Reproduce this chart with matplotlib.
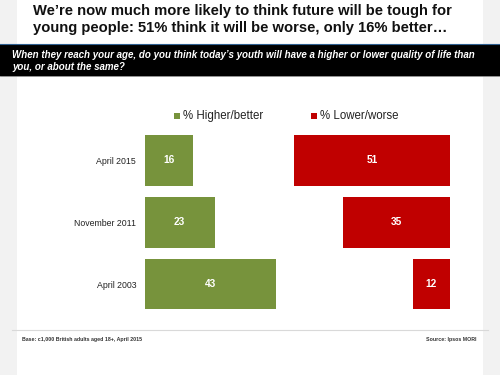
import matplotlib.pyplot as plt
from matplotlib.patches import Rectangle

# data
periods = ['April 2003', 'November 2011', 'April 2015']
higher = [43, 23, 16]
lower = [12, 35, 51]
series_names = ['% Higher/better', '% Lower/worse']

title = ("We\u2019re now much more likely to think future will be tough for\n"
         "young people: 51% think it will be worse, only 16% better\u2026")
question = ("When they reach your age, do you think today\u2019s youth will have a higher or lower quality of life than\n"
            "you, or about the same?")
base_note = 'Base: c1,000 British adults aged 18+, April 2015'
source_note = 'Source: Ipsos MORI'

GREEN = '#77933C'
RED = '#C00000'
W, H = 500, 375

plt.rcParams['font.family'] = ['Liberation Sans', 'DejaVu Sans']

fig = plt.figure(figsize=(5, 3.75), dpi=100, facecolor='#F2F2F2')


def fx(px):
    return px / W


def fy(py):
    return 1 - py / H


# white slide panel
fig.patches.append(Rectangle((fx(17), 0), fx(466), 1, transform=fig.transFigure,
                             facecolor='white', edgecolor='none', zorder=0))
# black question band
fig.patches.append(Rectangle((0, fy(76)), 1, 32 / H, transform=fig.transFigure,
                             facecolor='black', edgecolor='none', zorder=1))
fig.lines.append(plt.Line2D([0, 1], [fy(44), fy(44)], transform=fig.transFigure,
                            color='#2F5F8F', lw=0.8, zorder=2))
fig.lines.append(plt.Line2D([0, 1], [fy(76), fy(76)], transform=fig.transFigure,
                            color='#7F7F7F', lw=0.6, zorder=2))

fig.text(fx(33), fy(4.5), title, fontsize=10.6, fontweight='bold', color='#111111',
         va='top', ha='left', linespacing=1.2)
fig.text(fx(12), fy(61), question, fontsize=7.0, fontweight='bold', style='italic',
         color='white', va='center', ha='left', linespacing=1.25, zorder=3)

# bar chart
ax = fig.add_axes([fx(144.5), fy(315), (449.7 - 144.5) / W, 185.4 / H], zorder=5)
ax.set_facecolor('none')
pos = list(range(len(periods)))
ax.barh(pos, higher, height=0.82, color=GREEN)
ax.barh(pos, lower, left=[100 - v for v in lower], height=0.82, color=RED)
for p, h, l in zip(pos, higher, lower):
    ax.text(h / 2, p, str(h), ha='center', va='center', color='white',
            fontsize=7.3, fontweight='bold')
    ax.text(100 - l / 2, p, str(l), ha='center', va='center', color='white',
            fontsize=7.3, fontweight='bold')
ax.set_xlim(0, 100)
ax.set_ylim(-0.5, len(periods) - 0.5)
ax.set_yticks(pos)
ax.set_yticklabels(periods, fontsize=6.3, color='#222222')
ax.tick_params(axis='y', length=0, pad=6)
ax.set_xticks([])
for s in ax.spines.values():
    s.set_visible(False)

# legend
for name, col, x0 in zip(series_names, [GREEN, RED], [174, 311]):
    fig.patches.append(Rectangle((fx(x0), fy(119)), 6 / W, 6 / H, transform=fig.transFigure,
                                 facecolor=col, edgecolor='none'))
    fig.text(fx(x0 + 9), fy(116), name, fontsize=8.3, color='#222222', va='center', ha='left')

# footer
fig.lines.append(plt.Line2D([fx(12), fx(488)], [fy(330), fy(330)], transform=fig.transFigure,
                            color='#D9D9D9', lw=0.8))
fig.text(fx(22), fy(339), base_note, fontsize=3.8, fontweight='bold', color='#333333',
         va='center', ha='left')
fig.text(fx(476), fy(339), source_note, fontsize=3.8, fontweight='bold', color='#333333',
         va='center', ha='right')

fig.savefig('out.png', dpi=100, facecolor=fig.get_facecolor())
